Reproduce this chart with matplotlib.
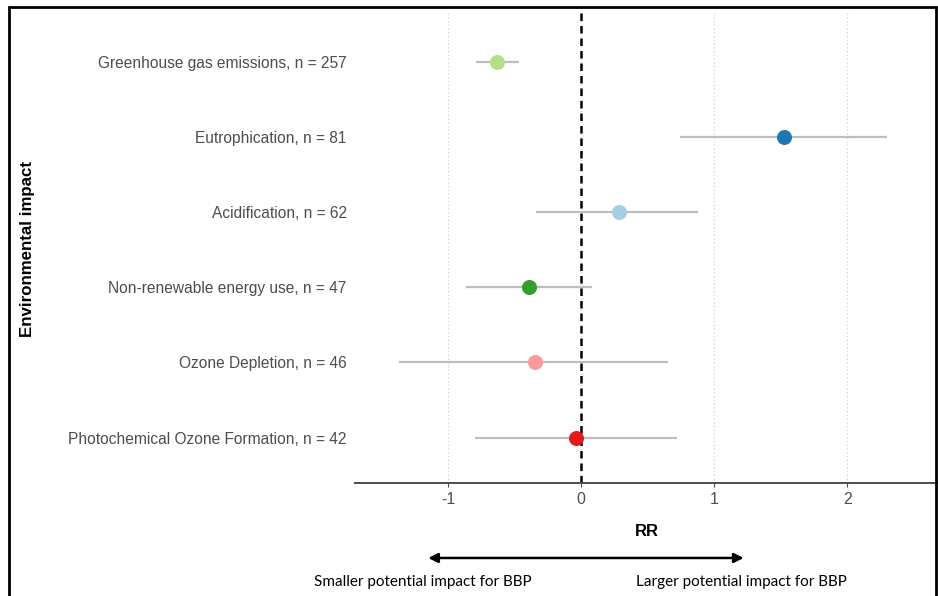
import matplotlib.pyplot as plt
from matplotlib.patches import Rectangle

plt.rcParams['axes.unicode_minus'] = False

impacts = ['Greenhouse gas emissions, n = 257',
           'Eutrophication, n = 81',
           'Acidification, n = 62',
           'Non-renewable energy use, n = 47',
           'Ozone Depletion, n = 46',
           'Photochemical Ozone Formation, n = 42']
rr = [-0.63, 1.52, 0.28, -0.39, -0.35, -0.04]
ci_low = [-0.79, 0.74, -0.34, -0.87, -1.37, -0.80]
ci_high = [-0.47, 2.30, 0.88, 0.08, 0.65, 0.72]
colors = ['#B2DF8A', '#1F78B4', '#A6CEE3', '#33A02C', '#FB9A99', '#E31A1C']
xticks = [-1, 0, 1, 2]

fig = plt.figure(figsize=(9.38, 5.96), dpi=100)
ax = fig.add_axes([0.3785, 0.19, 0.6215, 0.79])

ypos = list(range(len(impacts), 0, -1))

for x in xticks:
    ax.axvline(x, color='#D0D0D0', linestyle=(0, (1, 2)), linewidth=0.9, zorder=0)

ax.axvline(0, color='black', linestyle=(0, (3, 2)), linewidth=1.8, zorder=1)

for y, lo, hi, m, c in zip(ypos, ci_low, ci_high, rr, colors):
    ax.plot([lo, hi], [y, y], color='#BEBEBE', linewidth=1.6, solid_capstyle='butt', zorder=2)
    ax.plot(m, y, 'o', color=c, markersize=9.8, zorder=3)

ax.set_xlim(-1.70, 2.68)
ax.set_ylim(0.4, 6.66)
ax.set_xticks(xticks)
ax.set_yticks(ypos)
ax.set_yticklabels(impacts)
ax.tick_params(axis='y', length=0, pad=6, labelsize=11.2, labelcolor='#4D4D4D')
ax.tick_params(axis='x', length=3, color='#4D4D4D', pad=4, labelsize=11.4, labelcolor='#4D4D4D')
for lab in ax.get_xticklabels() + ax.get_yticklabels():
    lab.set_family('Liberation Sans')

for s in ['top', 'right', 'left']:
    ax.spines[s].set_visible(False)
ax.spines['bottom'].set_color('#4D4D4D')
ax.spines['bottom'].set_linewidth(1.4)

ax.set_xlabel('RR', fontsize=12, fontweight='bold', family='Liberation Sans', labelpad=12)
fig.text(0.029, 0.582, 'Environmental impact', rotation=90, ha='center', va='center',
         fontsize=12.2, fontweight='bold', family='Liberation Sans')

# arrow and direction labels below the axis
ax.annotate('', xy=(-1.15, -0.6), xytext=(1.22, -0.6), xycoords='data',
            annotation_clip=False,
            arrowprops=dict(arrowstyle='<|-|>', color='black', linewidth=1.8,
                            mutation_scale=14, shrinkA=0, shrinkB=0))
ax.text(-1.19, -0.92, 'Smaller potential impact for BBP', ha='center', va='center',
        fontsize=11, family='Lato', clip_on=False)
ax.text(1.20, -0.92, 'Larger potential impact for BBP', ha='center', va='center',
        fontsize=11, family='Lato', clip_on=False)

fig.patches.append(Rectangle((9 / 938, -0.01), 927 / 938, 1 - 7 / 596 + 0.01,
                             transform=fig.transFigure, fill=False,
                             edgecolor='black', linewidth=2))

fig.savefig('out.png', dpi=100)
